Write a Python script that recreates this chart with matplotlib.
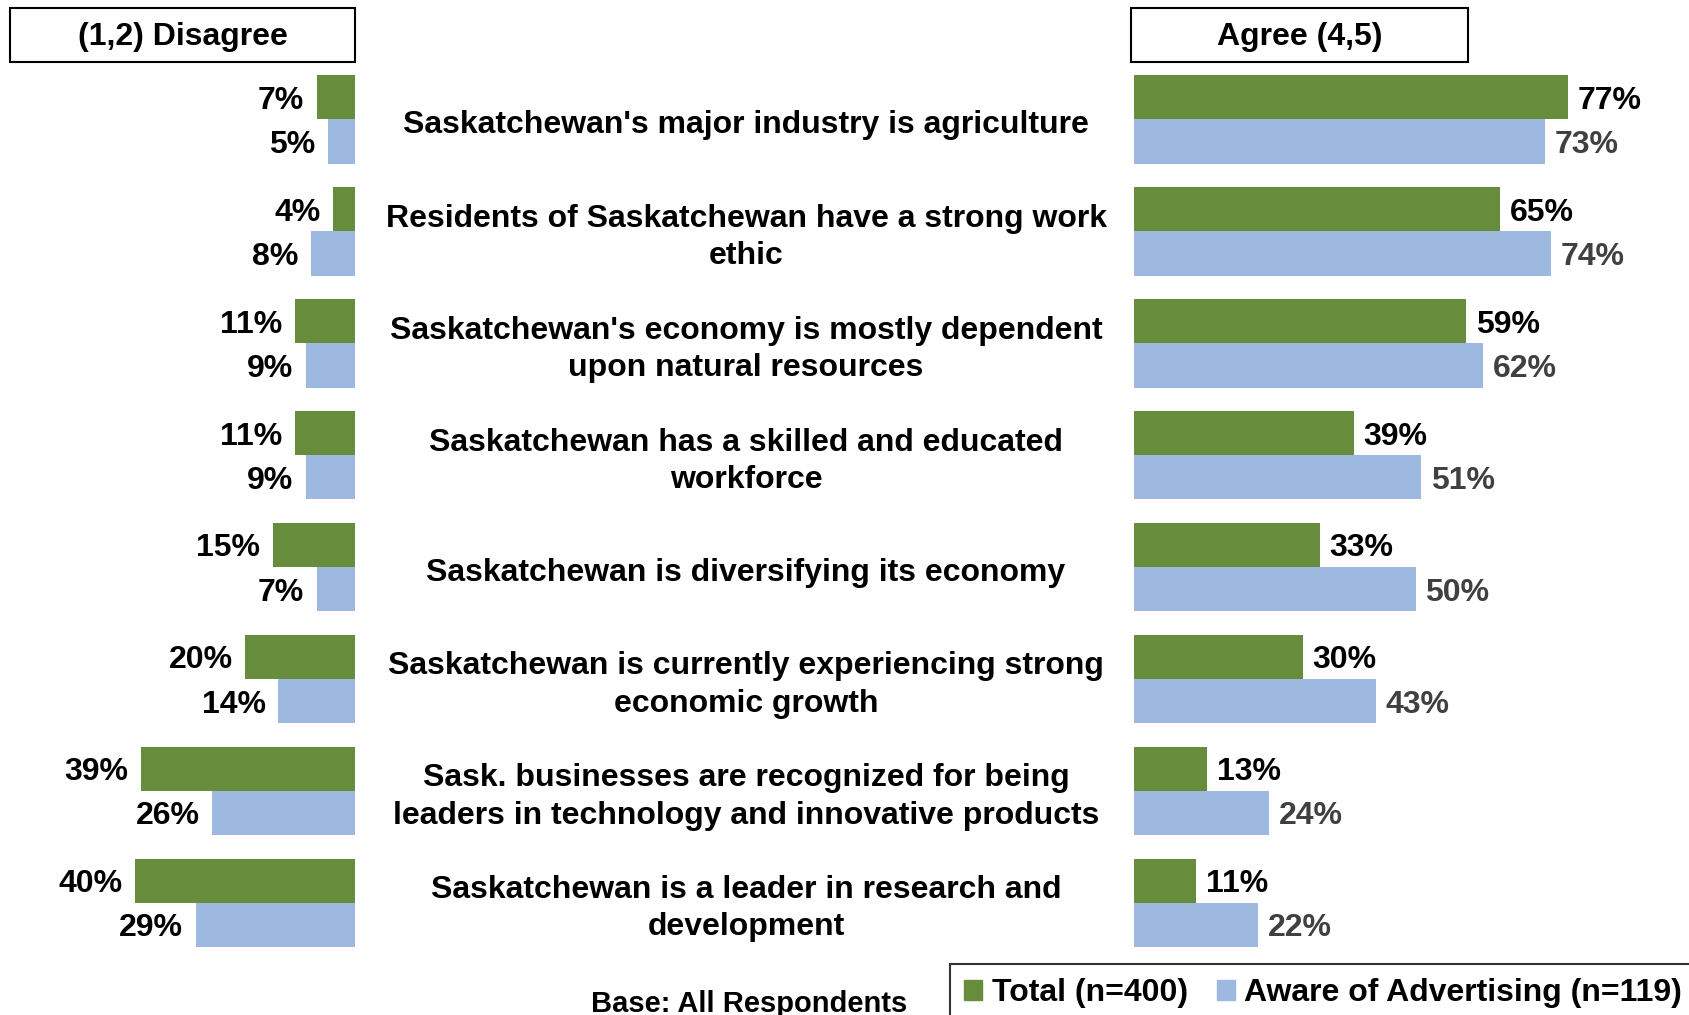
import matplotlib
matplotlib.use("Agg")
import matplotlib.pyplot as plt
from matplotlib.patches import Rectangle, Patch

plt.rcParams['font.family'] = ['Liberation Sans', 'DejaVu Sans']
plt.rcParams['font.weight'] = 'bold'

statements = [
    "Saskatchewan's major industry is agriculture",
    "Residents of Saskatchewan have a strong work\nethic",
    "Saskatchewan's economy is mostly dependent\nupon natural resources",
    "Saskatchewan has a skilled and educated\nworkforce",
    "Saskatchewan is diversifying its economy",
    "Saskatchewan is currently experiencing strong\neconomic growth",
    "Sask. businesses are recognized for being\nleaders in technology and innovative products",
    "Saskatchewan is a leader in research and\ndevelopment",
]
disagree_total = [7, 4, 11, 11, 15, 20, 39, 40]
disagree_aware = [5, 8, 9, 9, 7, 14, 26, 29]
agree_total = [77, 65, 59, 39, 33, 30, 13, 11]
agree_aware = [73, 74, 62, 51, 50, 43, 24, 22]

series_names = ["Total (n=400)", "Aware of Advertising (n=119)"]
green = "#678c3b"
blue = "#9eb9df"

W, H = 1689, 1015
fig = plt.figure(figsize=(W / 100, H / 100), dpi=100)

# rows: centre of group i sits at pixel 119.5 + 111.9*i
y0, dy = 119.5, 111.9
ylim = ((H - y0) / dy, -y0 / dy)
bw = 0.395
pos = list(range(len(statements)))

def px(x0, x1):
    return [x0 / W, 0, (x1 - x0) / W, 1]

axl = fig.add_axes(px(0, 355))
axr = fig.add_axes(px(1134, W))
for ax in (axl, axr):
    ax.set_ylim(*ylim)
    ax.axis('off')
axl.set_xlim(355 / 5.5, 0)
axr.set_xlim(0, (W - 1134) / 5.63)

fs = 23
bl1 = axl.barh([p - bw / 2 for p in pos], disagree_total, height=bw, color=green)
bl2 = axl.barh([p + bw / 2 for p in pos], disagree_aware, height=bw, color=blue)
br1 = axr.barh([p - bw / 2 for p in pos], agree_total, height=bw, color=green)
br2 = axr.barh([p + bw / 2 for p in pos], agree_aware, height=bw, color=blue)

anns = []
for bars, vals in ((bl1, disagree_total), (bl2, disagree_aware)):
    anns += axl.bar_label(bars, labels=[f"{v}%" for v in vals], padding=9,
                          fontsize=fs, fontweight='bold', color='black')
anns += axr.bar_label(br1, labels=[f"{v}%" for v in agree_total], padding=7,
                      fontsize=fs, fontweight='bold', color='black')
anns += axr.bar_label(br2, labels=[f"{v}%" for v in agree_aware], padding=7,
                      fontsize=fs, fontweight='bold', color='#404040')
for a in anns:
    a.xyann = (a.xyann[0], -2.5)

# statement labels in the middle
for i, s in enumerate(statements):
    yc = y0 + dy * i + 6
    fig.text(746 / W, 1 - yc / H, s, ha='center', va='center', fontsize=fs,
             fontweight='bold', linespacing=1.32)

# header boxes
for (x0, x1), title in (((10, 355), "(1,2) Disagree"), ((1131, 1468), "Agree (4,5)")):
    fig.add_artist(Rectangle((x0 / W, 1 - 62 / H), (x1 - x0) / W, 54 / H,
                             transform=fig.transFigure, fill=False,
                             edgecolor='black', linewidth=1.5))
    fig.text((x0 + x1) / 2 / W, 1 - 37 / H, title, ha='center', va='center',
             fontsize=fs, fontweight='bold')

fig.text(749 / W, 1 - 1004 / H, "Base: All Respondents", ha='center', va='center',
         fontsize=21, fontweight='bold')

handles = [Patch(color=green), Patch(color=blue)]
leg = fig.legend(handles, series_names, loc='upper left',
                 bbox_to_anchor=(950 / W, 1 - 964 / H), ncol=2, fontsize=fs,
                 frameon=True, fancybox=False, edgecolor='black',
                 handlelength=0.56, handleheight=0.6, handletextpad=0.3,
                 columnspacing=0.9, borderpad=0.45, borderaxespad=0)
leg.get_frame().set_linewidth(1.5)
for t in leg.get_texts():
    t.set_fontweight('bold')

fig.savefig("out.png", dpi=100)
